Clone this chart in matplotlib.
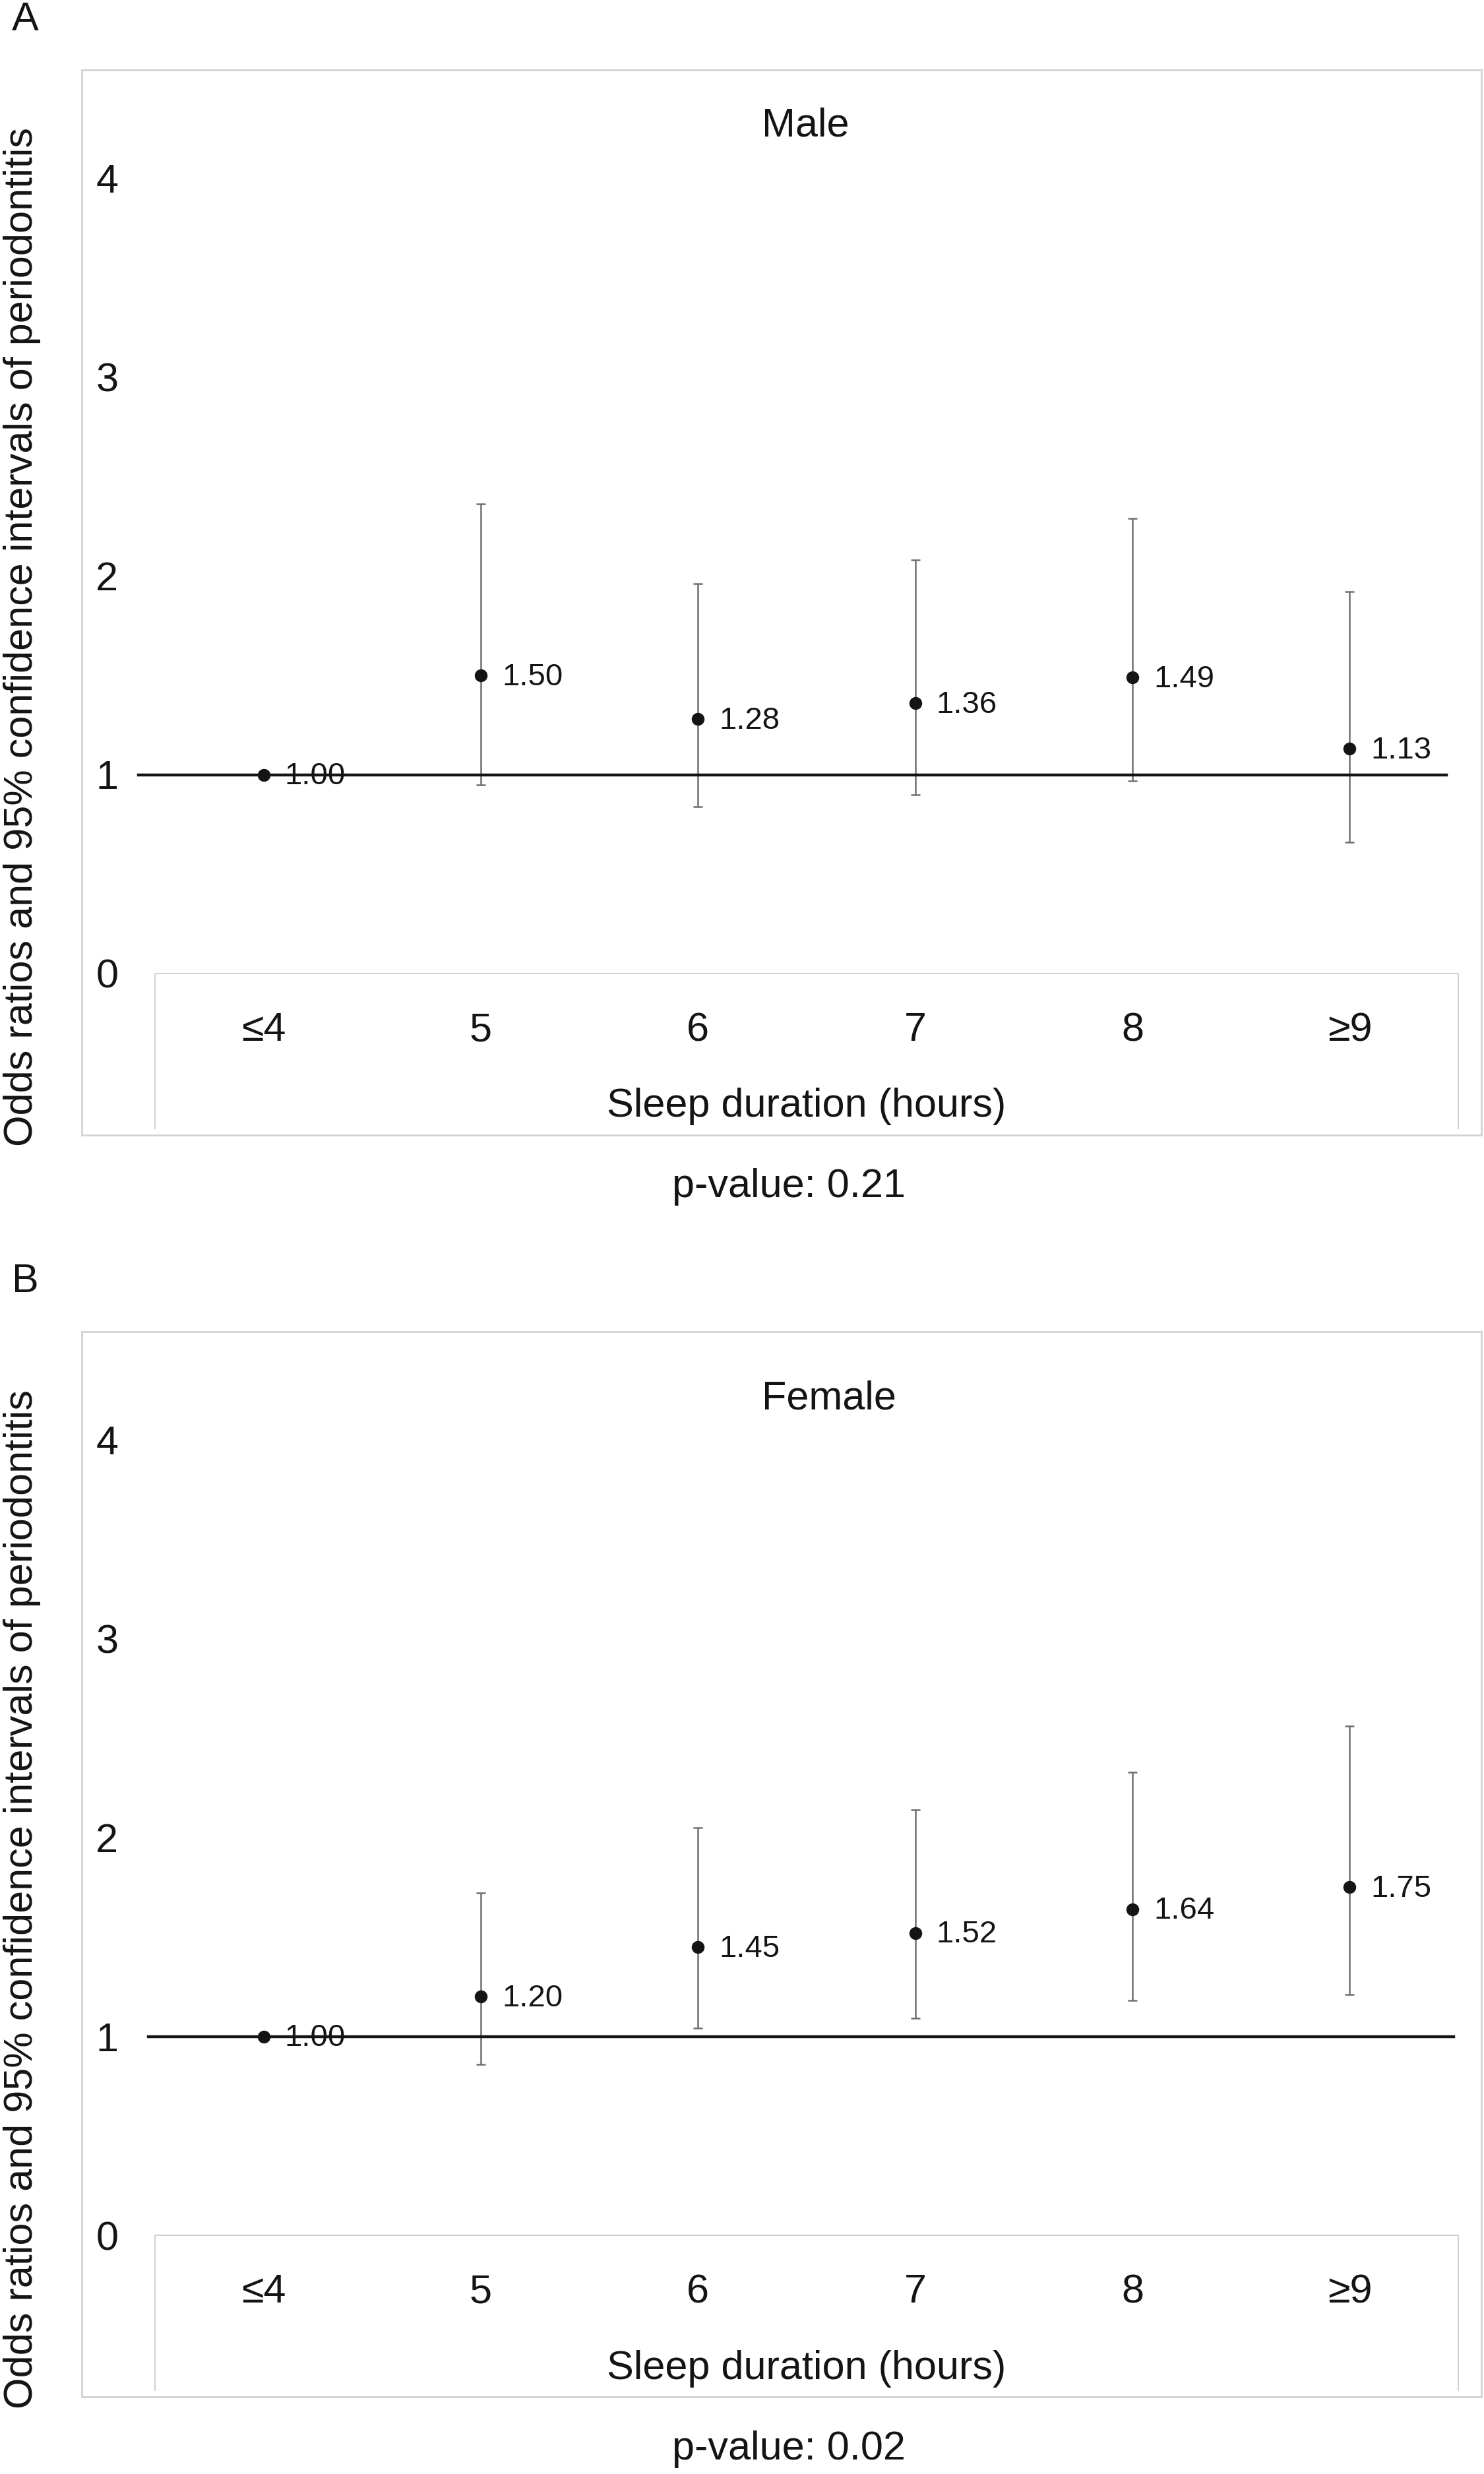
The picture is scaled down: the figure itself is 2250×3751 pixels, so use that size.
import numpy as np
import matplotlib
matplotlib.use('Agg')
import matplotlib.pyplot as plt
from matplotlib.patches import Rectangle

plt.rcParams['font.family'] = ['Liberation Sans', 'DejaVu Sans']

categories = ['≤4', '5', '6', '7', '8', '≥9']
yticks = [0, 1, 2, 3, 4]

male_or = [1.00, 1.50, 1.28, 1.36, 1.49, 1.13]
male_lo = [np.nan, 0.95, 0.84, 0.90, 0.97, 0.66]
male_hi = [np.nan, 2.36, 1.96, 2.08, 2.29, 1.92]

female_or = [1.00, 1.20, 1.45, 1.52, 1.64, 1.75]
female_lo = [np.nan, 0.86, 1.04, 1.09, 1.18, 1.21]
female_hi = [np.nan, 1.72, 2.05, 2.14, 2.33, 2.56]

ylabel = 'Odds ratios and 95% confidence intervals of periodontitis'
xlabel = 'Sleep duration (hours)'

W, H = 2250, 3751
UNIT = 301.5
TXT = '#141414'
GRID = '#d2d2d2'


def fx(px):
    return px / W


def fy(py):
    return 1 - py / H


fig = plt.figure(figsize=(W / 100, H / 100), dpi=100)


def draw_panel(y0, letter, title, title_x, title_y, ors, los, his, pval, line_ext):
    d = y0 - 1476
    ax = fig.add_axes([fx(235), fy(y0), (2211 - 235) / W, 4.4 * UNIT / H])
    ax.set_xlim(-0.5, 5.5)
    ax.set_ylim(0, 4.4)
    for s in ax.spines.values():
        s.set_visible(False)
    ax.patch.set_alpha(0)

    x = np.arange(len(categories))
    ors = np.array(ors)
    los = np.array(los)
    his = np.array(his)
    m = ~np.isnan(los)
    ax.errorbar(x[m], ors[m], yerr=[ors[m] - los[m], his[m] - ors[m]], fmt='none',
                ecolor='#6e6e6e', elinewidth=1.8, capsize=4.7, capthick=1.8, zorder=2)
    ax.plot(line_ext, [1, 1], color=TXT, lw=3.2, clip_on=False, zorder=3)
    ax.plot(x, ors, 'o', color=TXT, ms=13, zorder=4)
    for xi, v in zip(x, ors):
        ax.annotate('%.2f' % v, (xi, v), xytext=(23, -2), textcoords='offset points',
                    va='center', ha='left', fontsize=34, color=TXT, zorder=5)

    # category "table" box under the plot
    ax.plot([-0.5, -0.5, 5.5, 5.5], [-0.78, 0, 0, -0.78], color=GRID, lw=1.5, clip_on=False)

    ax.set_yticks(yticks)
    ax.set_yticklabels([str(t) for t in yticks], fontsize=44, color=TXT)
    ax.set_xticks(x)
    ax.set_xticklabels(categories, fontsize=44, color=TXT)
    ax.tick_params(axis='y', length=0, pad=40)
    ax.tick_params(axis='x', length=0, pad=42)

    fig.add_artist(Rectangle((fx(124), fy(y0 + 245)), (2246 - 124) / W, (245 + 1370) / H,
                             transform=fig.transFigure, fill=False, ec=GRID, lw=2))

    fig.text(fx(38), fy(31 + d), letter, ha='center', va='center', fontsize=44, color=TXT)
    fig.text(fx(title_x), fy(title_y), title, ha='center', va='center', fontsize=44, color=TXT)
    fig.text(fx(1223), fy(1678 + d), xlabel, ha='center', va='center', fontsize=44, color=TXT)
    fig.text(fx(1196), fy(1800 + d), 'p-value: ' + pval, ha='center', va='center',
             fontsize=44, color=TXT)
    fig.text(fx(34), fy(966 + d), ylabel, ha='center', va='center', rotation=90,
             fontsize=44, color=TXT)


draw_panel(1476, 'A', 'Male', 1221, 191, male_or, male_lo, male_hi, '0.21', [-0.576, 5.446])
draw_panel(3389, 'B', 'Female', 1257, 2121, female_or, female_lo, female_hi, '0.02', [-0.53, 5.48])

fig.savefig('out.png', dpi=100)
